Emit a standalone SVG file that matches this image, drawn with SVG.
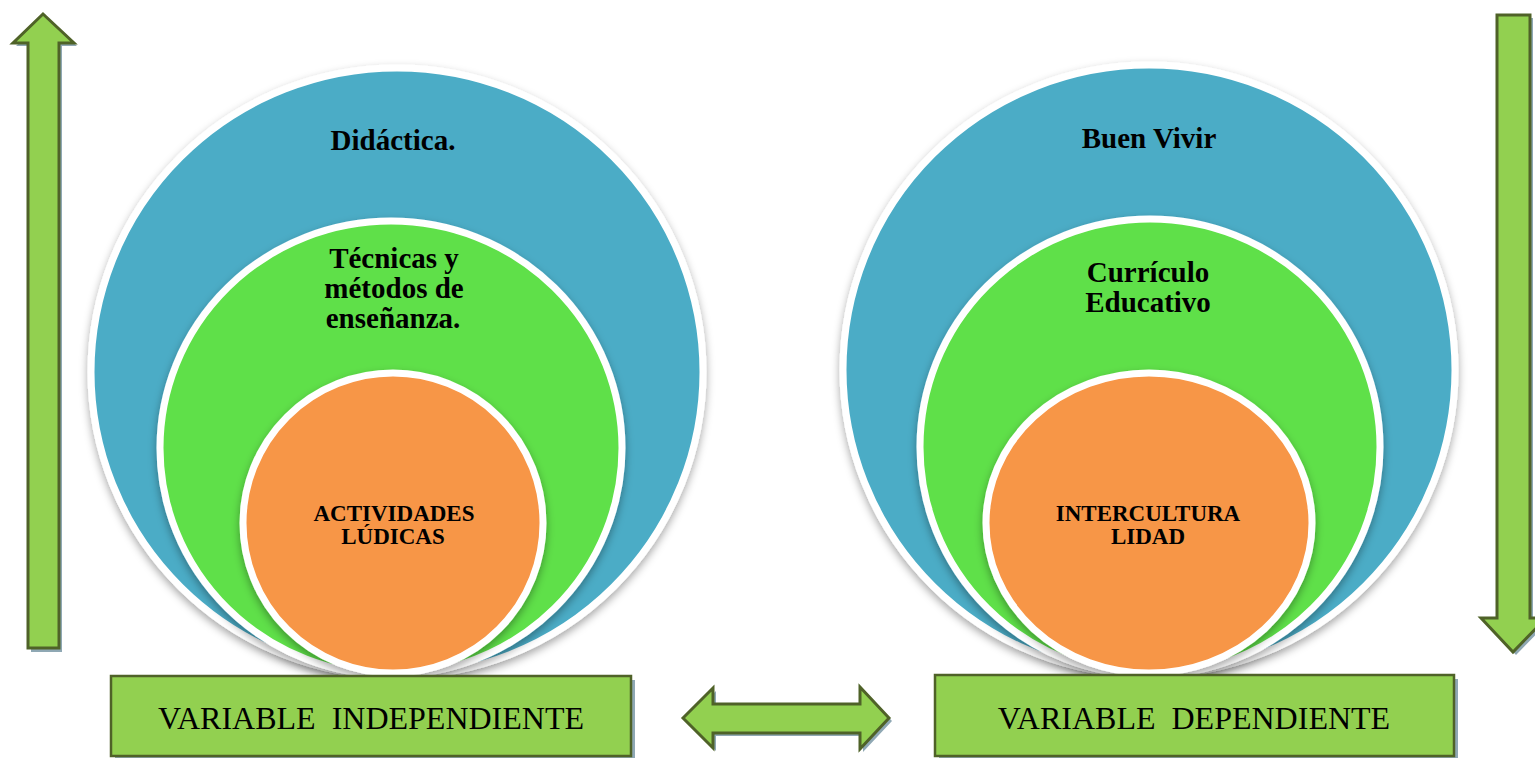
<svg xmlns="http://www.w3.org/2000/svg" width="1535" height="758" viewBox="0 0 1535 758">
<style>
.blue{fill:#4bacc6;stroke:#fff;stroke-width:7}
.green{fill:#5fe04a;stroke:#fff;stroke-width:7}
.orange{fill:#f79646;stroke:#fff;stroke-width:7}
.t{font-family:"Liberation Serif","Times New Roman",serif;font-weight:bold;fill:#000;text-anchor:middle}
.big{font-size:29px}
.small{font-size:23px}
.arrow{fill:#92d050;stroke:#4f6228;stroke-width:3;stroke-linejoin:miter}
.shadow{fill:#8fa8b4}
.box{fill:#92d050;stroke:#4f6228;stroke-width:2.5}
.bt{font-family:"Liberation Serif","Times New Roman",serif;font-size:32px;fill:#000;text-anchor:middle;white-space:pre}
</style>
<defs>
<filter id="sh" x="-10%" y="-10%" width="120%" height="125%">
<feDropShadow dx="0" dy="4" stdDeviation="4" flood-color="#000" flood-opacity="0.35"/>
</filter>
</defs>
<rect width="1535" height="758" fill="#fff"/>

<g id="left-circles">
<g id="didactica">
<ellipse class="blue" cx="397" cy="372" rx="306" ry="304" filter="url(#sh)"/>
<text class="t big" x="393" y="150">Didáctica.</text>
</g>
<g id="tecnicas">
<ellipse class="green" cx="391" cy="448" rx="231" ry="227" filter="url(#sh)"/>
<text class="t big" x="394" y="268">Técnicas y</text>
<text class="t big" x="394" y="298">métodos de</text>
<text class="t big" x="393" y="328">enseñanza.</text>
</g>
<g id="actividades">
<ellipse class="orange" cx="393" cy="523" rx="150" ry="150" filter="url(#sh)"/>
<text class="t small" x="394" y="521">ACTIVIDADES</text>
<text class="t small" x="393" y="544">LÚDICAS</text>
</g>
</g>

<g id="right-circles">
<g id="buen-vivir">
<ellipse class="blue" cx="1149" cy="370" rx="306" ry="305" filter="url(#sh)"/>
<text class="t big" x="1149" y="148">Buen Vivir</text>
</g>
<g id="curriculo">
<ellipse class="green" cx="1150" cy="447" rx="230" ry="228" filter="url(#sh)"/>
<text class="t big" x="1148" y="282">Currículo</text>
<text class="t big" x="1148" y="312">Educativo</text>
</g>
<g id="interculturalidad">
<ellipse class="orange" cx="1149" cy="523" rx="163" ry="150" filter="url(#sh)"/>
<text class="t small" x="1148" y="521">INTERCULTURA</text>
<text class="t small" x="1148" y="544">LIDAD</text>
</g>
</g>

<g id="connectors">
<g id="arrow-up">
<polygon class="shadow" points="46,17 77,46 62,46 62,652 31,652 31,46 16,46"/>
<polygon class="arrow" points="43,14 74,43 59,43 59,648 28,648 28,43 13,43"/>
</g>
<g id="arrow-down">
<polygon class="shadow" points="1500,18 1533,18 1533,621 1549,621 1516,655 1484,621 1500,621"/>
<polygon class="arrow" points="1497,15 1530,15 1530,618 1546,618 1513,652 1481,618 1497,618"/>
</g>
<g id="arrow-both">
<polygon class="shadow" points="686,721 716,691 716,707 863,707 863,690 892,721 863,752 863,736 716,736 716,751"/>
<polygon class="arrow" points="683,718 713,688 713,704 860,704 860,687 889,718 860,749 860,733 713,733 713,748"/>
</g>
</g>

<g id="var-independiente">
<rect class="shadow" x="115" y="680" width="520" height="80"/>
<rect class="box" x="111" y="676" width="520" height="80"/>
<text class="bt" x="371" y="729">VARIABLE  INDEPENDIENTE</text>
</g>
<g id="var-dependiente">
<rect class="shadow" x="939" y="679" width="519" height="81"/>
<rect class="box" x="935" y="675" width="519" height="81"/>
<text class="bt" x="1194" y="729">VARIABLE  DEPENDIENTE</text>
</g>
</svg>
